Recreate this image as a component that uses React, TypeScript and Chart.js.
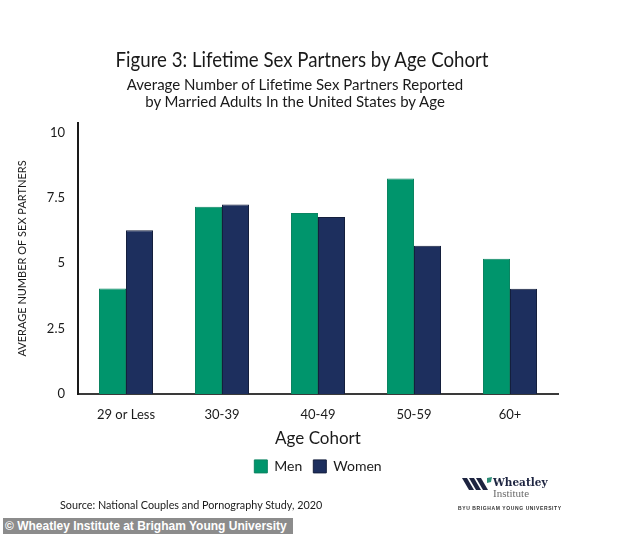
import React, { useEffect, useRef } from "react";
import { Chart, registerables } from "chart.js";

Chart.register(...registerables);

const categories = ["29 or Less", "30-39", "40-49", "50-59", "60+"];
const menValues = [4.03, 7.16, 6.92, 8.24, 5.17];
const womenValues = [6.26, 7.24, 6.77, 5.67, 4.02];
const yTickValues = [0, 2.5, 5, 7.5, 10];
const seriesNames = ["Men", "Women"];

const titleText = "Figure 3: Lifetime Sex Partners by Age Cohort";
const subtitleLines = [
  "Average Number of Lifetime Sex Partners Reported",
  "by Married Adults In the United States by Age",
];
const yAxisTitle = "AVERAGE NUMBER OF SEX PARTNERS";
const xAxisTitle = "Age Cohort";
const sourceText = "Source: National Couples and Pornography Study, 2020";
const watermarkText = "© Wheatley Institute at Brigham Young University";

const MEN_COLOR = "#00956c";
const WOMEN_COLOR = "#1d2f5e";
const FONT = "Lato, 'Open Sans', sans-serif";

export default function App() {
  const canvasRef = useRef<HTMLCanvasElement | null>(null);

  useEffect(() => {
    document.body.style.margin = "0";
    const canvas = canvasRef.current;
    if (!canvas) return;
    const chart = new Chart(canvas, {
      type: "bar",
      data: {
        labels: categories,
        datasets: [
          {
            label: seriesNames[0],
            data: menValues,
            backgroundColor: MEN_COLOR,
            borderColor: "#0b8461",
            borderWidth: 1,
            categoryPercentage: 0.5625,
            barPercentage: 1,
          },
          {
            label: seriesNames[1],
            data: womenValues,
            backgroundColor: WOMEN_COLOR,
            borderColor: "#141f3d",
            borderWidth: 1,
            categoryPercentage: 0.5625,
            barPercentage: 1,
          },
        ],
      },
      options: {
        responsive: false,
        animation: false,
        layout: { padding: { top: 123, right: 76, left: 0, bottom: 50.6 } },
        plugins: {
          title: { display: false },
          tooltip: { enabled: false },
          legend: {
            display: true,
            position: "bottom",
            fullSize: false,
            labels: {
              boxWidth: 13,
              boxHeight: 13,
              padding: 11,
              color: "#1a1a1a",
              font: { family: FONT, size: 14 },
            },
          },
        },
        scales: {
          x: {
            grid: { display: false, drawTicks: false },
            border: { display: true, color: "#3a3a3a", width: 2 },
            ticks: {
              color: "#1a1a1a",
              font: { family: FONT, size: 13 },
              padding: 13,
              maxRotation: 0,
            },
            title: {
              display: true,
              text: xAxisTitle,
              color: "#1a1a1a",
              font: { family: FONT, size: 17 },
              padding: { top: 0, bottom: 0 },
            },
            afterFit: (scale: any) => {
              scale.height = 54.4;
            },
          },
          y: {
            min: 0,
            max: 10.36,
            grid: { display: false, drawTicks: false },
            border: { display: true, color: "#1a1a1a", width: 2 },
            afterBuildTicks: (scale: any) => {
              scale.ticks = yTickValues.map((v) => ({ value: v }));
            },
            ticks: {
              color: "#1a1a1a",
              font: { family: FONT, size: 13 },
              padding: 13,
              callback: (v: any) => String(v),
            },
            title: {
              display: true,
              text: yAxisTitle,
              color: "#1a1a1a",
              font: { family: FONT, size: 11 },
              padding: { top: 16, bottom: 0 },
            },
            afterFit: (scale: any) => {
              scale.width = 78;
            },
          },
        },
      },
    });
    return () => chart.destroy();
  }, []);

  const abs = (s: React.CSSProperties): React.CSSProperties => ({
    position: "absolute",
    whiteSpace: "nowrap",
    ...s,
  });

  return (
    <div
      style={{
        position: "relative",
        width: 634,
        height: 534,
        background: "#ffffff",
        overflow: "hidden",
        fontFamily: FONT,
        color: "#1a1a1a",
      }}
    >
      <canvas ref={canvasRef} width={634} height={534} style={{ display: "block" }} />
      <div
        style={abs({
          left: 0,
          width: 604,
          top: 47,
          textAlign: "center",
          fontSize: 20.5,
          lineHeight: "24px",
          transform: "scaleX(0.91)",
          transformOrigin: "302px 0",
        })}
      >
        {titleText}
      </div>
      <div style={abs({ left: 0, width: 590, top: 76, textAlign: "center", fontSize: 15, lineHeight: "17px" })}>
        {subtitleLines[0]}
        <br />
        {subtitleLines[1]}
      </div>
      <div
        style={abs({
          left: 60,
          top: 497,
          fontSize: 12,
          lineHeight: "16px",
          transform: "scaleX(0.9)",
          transformOrigin: "0 0",
        })}
      >
        {sourceText}
      </div>
      <div
        style={abs({
          left: 3,
          top: 518,
          width: 290,
          height: 16,
          background: "#8c8c8c",
          color: "#ffffff",
          fontFamily: "'Liberation Sans', Arial, sans-serif",
          fontWeight: "bold",
          fontSize: 12,
          lineHeight: "16px",
          paddingLeft: 2,
          boxSizing: "border-box",
        })}
      >
        {watermarkText}
      </div>
      <svg style={abs({ left: 458, top: 476 })} width={100} height={36}>
        <polygon points="4,2 9,2 16,14 11,14" fill="#1d2440" />
        <polygon points="11,2 16,2 23,14 18,14" fill="#1d2440" />
        <polygon points="18,2 23,2 30,14 25,14" fill="#1d2440" />
        <polygon points="29,2 34,1 33,6 29,7" fill="#2f8f78" />
      </svg>
      <div style={abs({ left: 493, top: 476, fontFamily: "'DejaVu Serif', 'Liberation Serif', serif", fontWeight: "bold", fontSize: 10.5, lineHeight: "12px", color: "#1d2440" })}>
        Wheatley
      </div>
      <div style={abs({ left: 493, top: 487, fontFamily: "'Liberation Serif', serif", fontSize: 11, lineHeight: "12px", color: "#6a6a6a" })}>
        Institute
      </div>
      <div style={abs({ left: 458, top: 505, fontFamily: "'Liberation Sans', Arial, sans-serif", fontWeight: "bold", fontSize: 5, lineHeight: "6px", letterSpacing: 0.6, color: "#333" })}>
        BYU BRIGHAM YOUNG UNIVERSITY
      </div>
    </div>
  );
}
